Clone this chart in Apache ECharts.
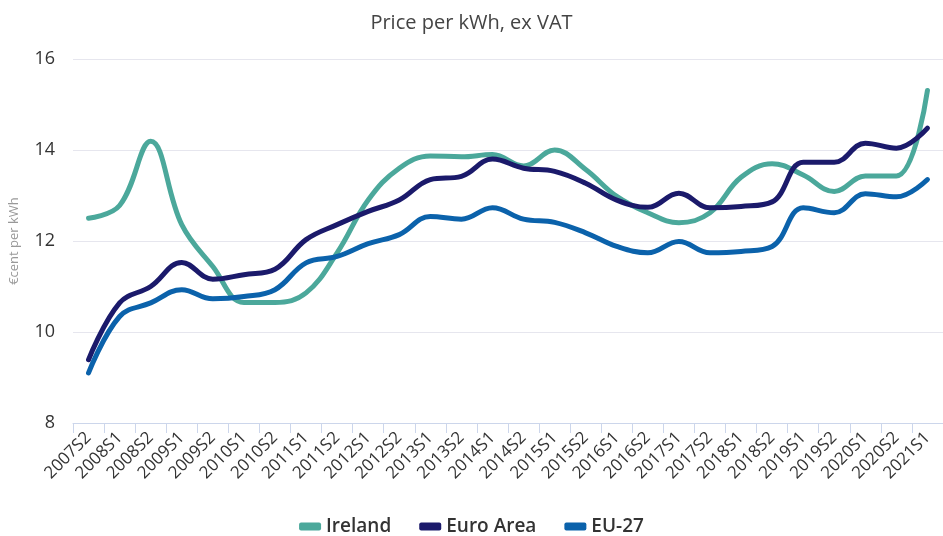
<!DOCTYPE html>
<html>
<head>
<meta charset="utf-8">
<script src="https://cdn.jsdelivr.net/npm/echarts@6/dist/echarts.min.js"></script>
<style>
  html, body { margin: 0; padding: 0; background: #fff; }
  #main { width: 943px; height: 536px; }
</style>
</head>
<body>
<div id="main"></div>
<script>
var periods = ['2007S2', '2008S1', '2008S2', '2009S1', '2009S2', '2010S1', '2010S2',
    '2011S1', '2011S2', '2012S1', '2012S2', '2013S1', '2013S2', '2014S1', '2014S2',
    '2015S1', '2015S2', '2016S1', '2016S2', '2017S1', '2017S2', '2018S1', '2018S2',
    '2019S1', '2019S2', '2020S1', '2020S2', '2021S1'];

var ireland = [12.5, 12.78, 14.19, 12.36, 11.44, 10.65, 10.65, 10.86, 11.74, 12.9, 13.6, 13.87,
    13.85, 13.9, 13.65, 14.0, 13.57, 12.98, 12.62, 12.4, 12.62, 13.4, 13.7, 13.45, 13.09,
    13.43, 13.43, 15.31];
var euroArea = [9.39, 10.64, 11.0, 11.53, 11.16, 11.26, 11.38, 12.03, 12.36, 12.65, 12.9, 13.35,
    13.42, 13.8, 13.6, 13.53, 13.27, 12.9, 12.74, 13.05, 12.73, 12.76, 12.86, 13.73, 13.73,
    14.15, 14.04, 14.48];
var eu27 = [9.1, 10.34, 10.64, 10.93, 10.73, 10.78, 10.93, 11.52, 11.66, 11.94, 12.14, 12.54,
    12.48, 12.73, 12.48, 12.41, 12.18, 11.88, 11.74, 11.99, 11.74, 11.77, 11.88, 12.73, 12.62,
    13.04, 12.97, 13.35];

var yTicks = [8, 10, 12, 14, 16];

var chart = echarts.init(document.getElementById('main'));

function makeSeries(name, data, color) {
    return {
        name: name,
        type: 'line',
        data: data,
        smooth: 0.4,
        symbol: 'none',
        lineStyle: { width: 5, color: color, cap: 'round', join: 'round' },
        itemStyle: { color: color }
    };
}

var option = {
    backgroundColor: '#fff',
    animation: false,
    textStyle: { fontFamily: 'Open Sans' },
    title: {
        text: 'Price per kWh, ex VAT',
        left: 'center',
        top: 8,
        textStyle: { fontSize: 20, fontWeight: 'normal', color: '#444' }
    },
    legend: {
        top: 512,
        left: 'center',
        icon: 'roundRect',
        itemWidth: 22,
        itemHeight: 8,
        itemGap: 28,
        textStyle: { fontSize: 19, fontWeight: 600, color: '#333' },
        data: ['Ireland', 'Euro Area', 'EU-27']
    },
    grid: { left: 73, right: -9, top: 59, bottom: 113 },
    xAxis: {
        type: 'category',
        data: periods,
        boundaryGap: true,
        axisLine: { lineStyle: { color: '#ccd6eb' } },
        axisTick: { show: true, length: 10, lineStyle: { color: '#ccd6eb' }, interval: 0 },
        axisLabel: { rotate: 45, interval: 0, fontSize: 17, color: '#333', margin: 12 }
    },
    yAxis: {
        type: 'value',
        min: yTicks[0],
        max: yTicks[yTicks.length - 1],
        interval: 2,
        name: '€cent per kWh',
        nameLocation: 'middle',
        nameGap: 52,
        nameTextStyle: { fontSize: 13, color: '#999' },
        axisLine: { show: false },
        axisTick: { show: false },
        axisLabel: { fontSize: 18, color: '#333', margin: 18 },
        splitLine: { lineStyle: { color: '#e6e6ee', width: 1 } }
    },
    series: [
        makeSeries('Ireland', ireland, '#4ba89b'),
        makeSeries('Euro Area', euroArea, '#1b1a6b'),
        makeSeries('EU-27', eu27, '#0b62ab')
    ]
};

chart.setOption(option);
</script>
</body>
</html>
